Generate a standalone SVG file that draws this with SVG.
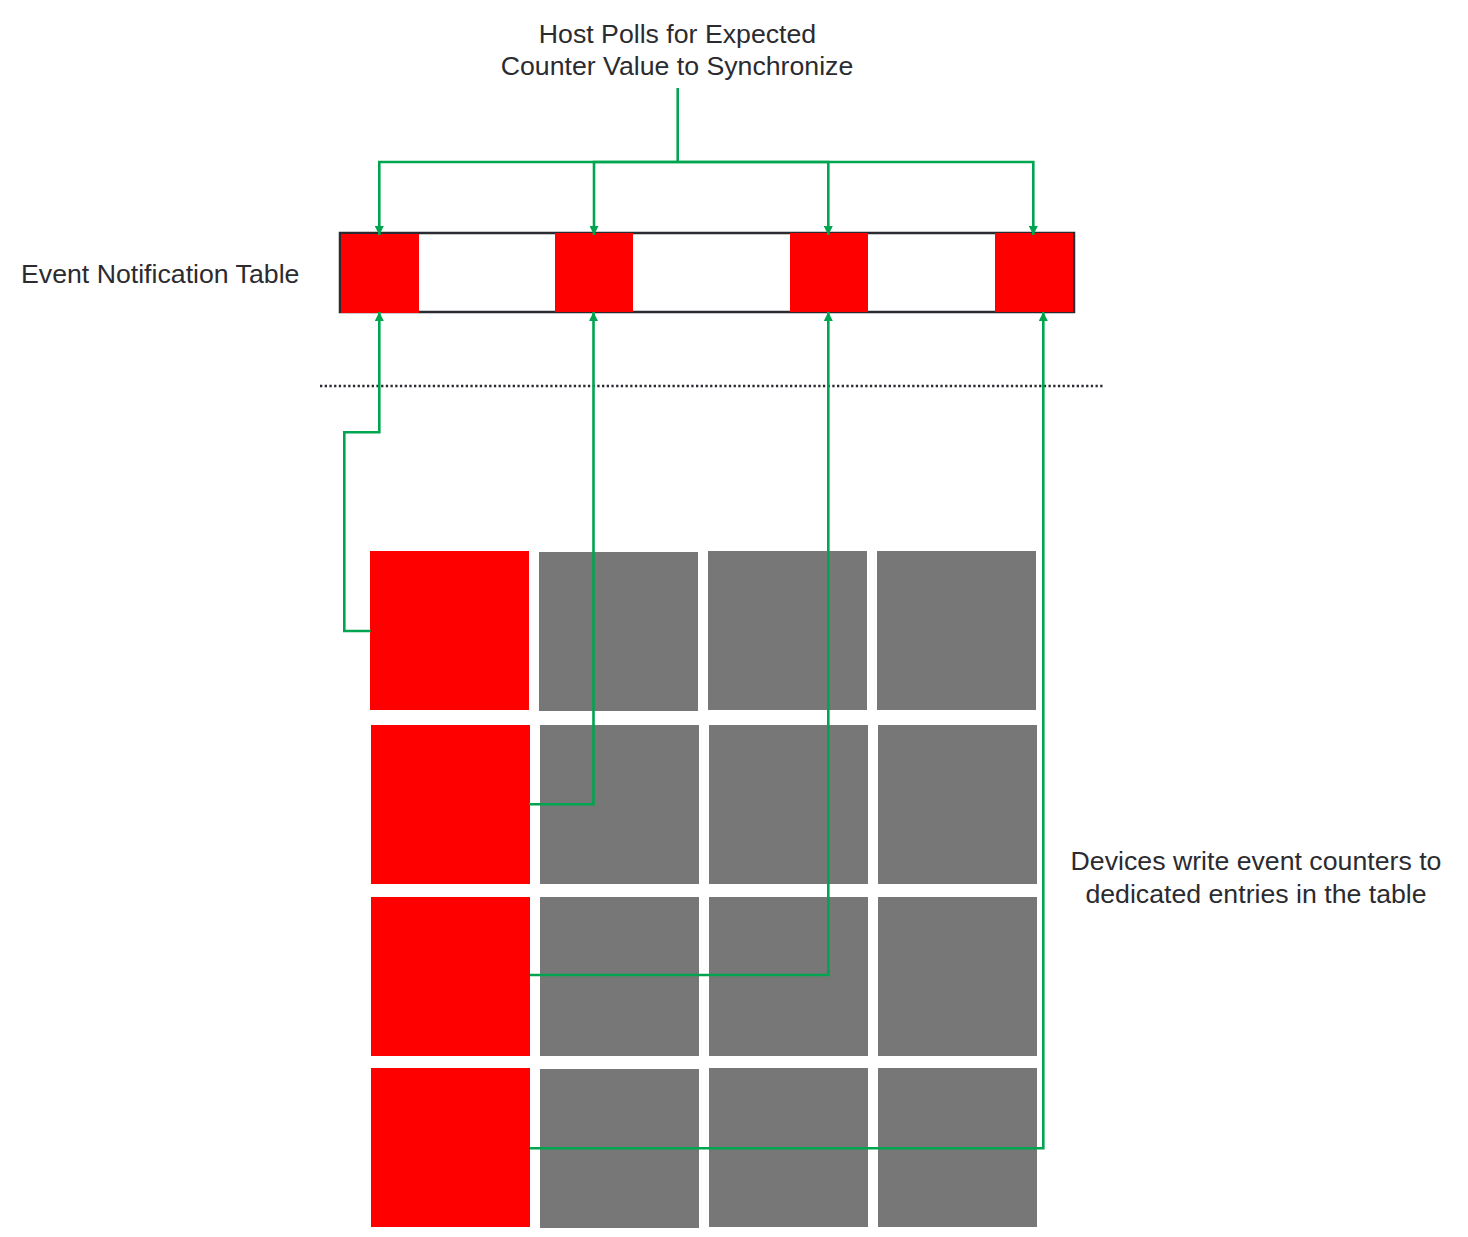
<svg xmlns="http://www.w3.org/2000/svg" width="1468" height="1237" viewBox="0 0 1468 1237">
<defs>
<style>
.t{font-family:"Liberation Sans",Arial,sans-serif;font-size:26.7px;fill:#2b2b30}
.c{fill:none;stroke:#00a64f;stroke-width:2.6}
.red{fill:#ff0000}
.gray{fill:#777777}
</style>
<marker id="ah" viewBox="0 0 9 9" refX="9" refY="4.5" markerWidth="9" markerHeight="9" markerUnits="userSpaceOnUse" orient="auto">
<path d="M0,0 L9,4.5 L0,9 z" fill="#00a64f"/>
</marker>
</defs>
<rect width="1468" height="1237" fill="#ffffff"/>

<g id="label-host">
<text class="t" x="677.5" y="43" text-anchor="middle">Host Polls for Expected</text>
<text class="t" x="677" y="75" text-anchor="middle">Counter Value to Synchronize</text>
</g>
<g id="label-table">
<text class="t" x="21" y="282.5">Event Notification Table</text>
</g>
<g id="label-devices">
<text class="t" x="1256" y="870" text-anchor="middle">Devices write event counters to</text>
<text class="t" x="1256" y="902.5" text-anchor="middle">dedicated entries in the table</text>
</g>

<g id="event-table">
<rect x="340" y="233" width="734" height="79" fill="#ffffff" stroke="#2a2a31" stroke-width="2.5"/>
<rect class="red" x="341" y="234" width="78" height="79"/>
<rect class="red" x="555" y="233" width="78" height="79"/>
<rect class="red" x="790" y="233" width="78" height="79"/>
<rect class="red" x="995" y="233" width="78" height="79"/>
</g>

<g id="separator">
<line x1="320" y1="386" x2="1103" y2="386" stroke="#2a2a31" stroke-width="2.5" stroke-dasharray="2.3 2.4"/>
</g>

<g id="device-grid">
<rect class="red" x="370" y="551" width="159" height="159"/>
<rect class="gray" x="539" y="552" width="159" height="159"/>
<rect class="gray" x="708" y="551" width="159" height="159"/>
<rect class="gray" x="877" y="551" width="159" height="159"/>
<rect class="red" x="371" y="725" width="159" height="159"/>
<rect class="gray" x="540" y="725" width="159" height="159"/>
<rect class="gray" x="709" y="725" width="159" height="159"/>
<rect class="gray" x="878" y="725" width="159" height="159"/>
<rect class="red" x="371" y="897" width="159" height="159"/>
<rect class="gray" x="540" y="897" width="159" height="159"/>
<rect class="gray" x="709" y="897" width="159" height="159"/>
<rect class="gray" x="878" y="897" width="159" height="159"/>
<rect class="red" x="371" y="1068" width="159" height="159"/>
<rect class="gray" x="540" y="1069" width="159" height="159"/>
<rect class="gray" x="709" y="1068" width="159" height="159"/>
<rect class="gray" x="878" y="1068" width="159" height="159"/>
</g>

<g id="connectors">
<path class="c" d="M677.7,88 V162" stroke-width="3.2"/>
<path class="c" d="M677.7,162 H379.3 V235" marker-end="url(#ah)"/>
<path class="c" d="M677.7,162 H594 V235" marker-end="url(#ah)"/>
<path class="c" d="M677.7,162 H828.3 V235" marker-end="url(#ah)"/>
<path class="c" d="M677.7,162 H1033.3 V235" marker-end="url(#ah)"/>
<path class="c" d="M370.7,631 H344.3 V432.3 H379.3 V312" marker-end="url(#ah)"/>
<path class="c" d="M529,804.3 H593.5 V312" marker-end="url(#ah)"/>
<path class="c" d="M530,975 H828.3 V312" marker-end="url(#ah)"/>
<path class="c" d="M530,1148.3 H1043.3 V312" marker-end="url(#ah)"/>
</g>
</svg>
